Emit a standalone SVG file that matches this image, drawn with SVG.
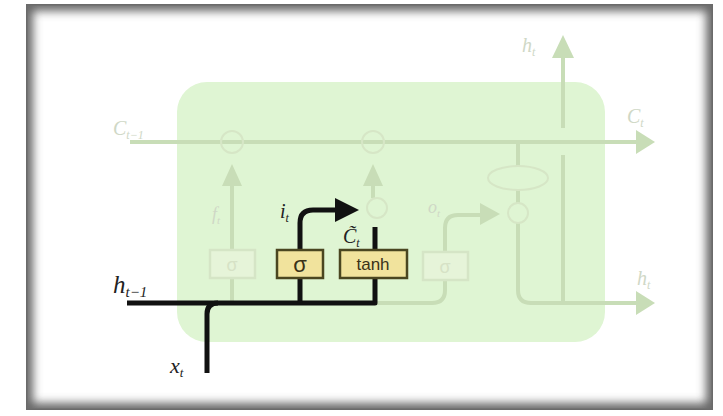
<svg xmlns="http://www.w3.org/2000/svg" width="723" height="416" viewBox="0 0 723 416">
<defs>
<style>
.blk{fill:none;stroke:#111;stroke-width:5;stroke-linejoin:round;stroke-linecap:butt}
.fnt{fill:none;stroke:#c8ddb7;stroke-width:4;stroke-linejoin:round}
.fah{fill:#c8ddb7}
.fc{fill:none;stroke:#d6e6c6;stroke-width:2}
.fbox{fill:#e6f4d9;stroke:#d5e5c6;stroke-width:2.5}
.gate{fill:#f1e39d;stroke:#4a4620;stroke-width:2.5}
.gt{font-family:"Liberation Sans",Arial,sans-serif;fill:#3a3218;text-anchor:middle}
.lbl{font-family:"Liberation Serif","Times New Roman",serif;font-style:italic;fill:#222}
.flbl{font-family:"Liberation Serif","Times New Roman",serif;font-style:italic;fill:#cfd8c6}
</style>
<clipPath id="inner"><rect x="26" y="4" width="687" height="406"/></clipPath>
<filter id="blur" x="-5%" y="-5%" width="110%" height="110%"><feGaussianBlur stdDeviation="5"/></filter>
</defs>
<rect width="723" height="416" fill="#fff"/>
<g id="frame" clip-path="url(#inner)">
<rect x="26" y="4" width="687" height="406" fill="none" stroke="#666" stroke-width="14" filter="url(#blur)"/>
<rect x="26" y="4" width="687" height="406" fill="none" stroke="#6a6a6a" stroke-width="3"/>
</g>
<g id="cell">
<rect x="177" y="82" width="428" height="260" rx="30" fill="#dff5d3"/>
</g>
<g id="connectors">
<path class="fnt" d="M130,142 H638"/>
<polygon class="fah" points="636,130 655,142 636,154"/>
<path class="fnt" d="M232,303 V185"/>
<polygon class="fah" points="222,186 232,164 242,186"/>
<path class="fnt" d="M373,198 V185"/>
<polygon class="fah" points="363,186 373,164 383,186"/>
<path class="fnt" d="M375,303 H432 Q445,303 445,290 V228 Q445,215 458,215 H482"/>
<polygon class="fah" points="480,203 500,214 480,225"/>
<path class="fnt" d="M518,142 V166 M518,190 V203 M518,223 V290 Q518,303 531,303 H638"/>
<polygon class="fah" points="636,291 655,303 636,315"/>
<path class="fnt" d="M563,155 V303 M563,128 V55"/>
<polygon class="fah" points="552,58 563,35 574,58"/>
<path class="blk" d="M127,303 H375 V227"/>
<path class="blk" d="M207,373 V314 Q207,303 218,303"/>
<path class="blk" d="M300,303 V223 Q300,210 313,210 H340"/>
<polygon fill="#111" points="335,198 359,210 335,222"/>
</g>
<g id="mult-f"><circle class="fc" cx="232" cy="142" r="11"/></g>
<g id="add-c"><circle class="fc" cx="373" cy="142" r="11"/></g>
<g id="mult-i"><circle class="fc" cx="377" cy="208" r="10"/></g>
<g id="tanh-c"><ellipse class="fc" cx="518" cy="178" rx="30" ry="12" fill="#e3f4d8"/></g>
<g id="mult-o"><circle class="fc" cx="518" cy="213" r="10"/></g>
<g id="gate-f"><rect class="fbox" x="210" y="250" width="45" height="28"/><text class="gt" x="232" y="271" font-size="18" style="fill:#d6e2c6">σ</text></g>
<g id="gate-i"><rect class="gate" x="277" y="250" width="46" height="28"/><text class="gt" x="300" y="272" font-size="22">σ</text></g>
<g id="gate-c"><rect class="gate" x="340" y="250" width="67" height="28"/><text class="gt" x="373" y="270" font-size="17">tanh</text></g>
<g id="gate-o"><rect class="fbox" x="423" y="252" width="45" height="28"/><text class="gt" x="445" y="273" font-size="18" style="fill:#d6e2c6">σ</text></g>
<g id="labels">
<text class="lbl" x="113" y="293" font-size="25">h<tspan font-size="15" dy="4">t−1</tspan></text>
<text class="lbl" x="170" y="373" font-size="22">x<tspan font-size="13" dy="4">t</tspan></text>
<text class="lbl" x="280" y="218" font-size="20">i<tspan font-size="12" dy="4">t</tspan></text>
<text class="lbl" x="343" y="243" font-size="20" fill="#555">C̃<tspan font-size="12" dy="4">t</tspan></text>
<text class="flbl" x="113" y="135" font-size="20">C<tspan font-size="12" dy="4">t−1</tspan></text>
<text class="flbl" x="212" y="220" font-size="18">f<tspan font-size="11" dy="4">t</tspan></text>
<text class="flbl" x="428" y="213" font-size="18">o<tspan font-size="11" dy="4">t</tspan></text>
<text class="flbl" x="627" y="123" font-size="20">C<tspan font-size="12" dy="4">t</tspan></text>
<text class="flbl" x="522" y="52" font-size="20">h<tspan font-size="12" dy="4">t</tspan></text>
<text class="flbl" x="637" y="285" font-size="20">h<tspan font-size="12" dy="4">t</tspan></text>
</g>
</svg>
